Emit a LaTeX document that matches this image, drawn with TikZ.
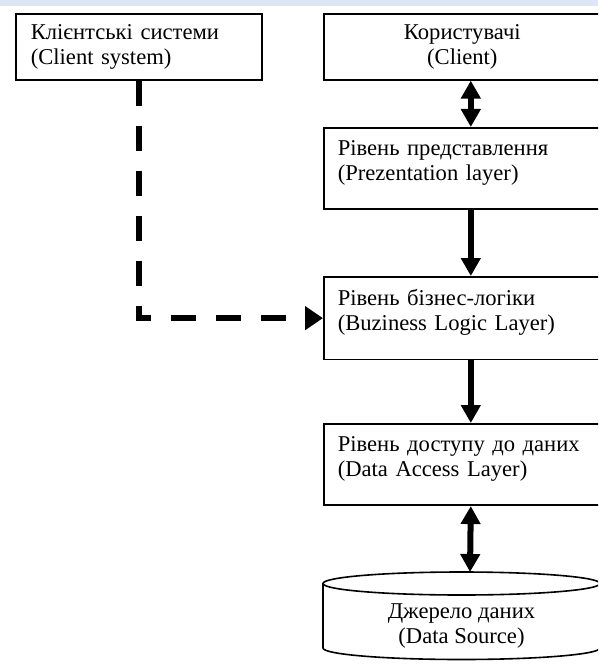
\documentclass[tikz,border=0pt]{standalone}
\usepackage{fontspec}
\setmainfont{Liberation Serif}
\usepackage{xcolor}
\usepackage{tikz}
\usetikzlibrary{arrows.meta,positioning,calc}
\definecolor{RulerBlue}{HTML}{DCE6F4}
\definecolor{InkBlack}{RGB}{0,0,0}
\colorlet{BoxLine}{InkBlack}

\tikzset{
  frame/.style={draw=BoxLine, line width=1.6pt, font=\fontsize{22.6}{25}\selectfont},
  sysbox/.style={frame, anchor=north west, minimum width=246pt, minimum height=66pt,
                 text width=216pt, inner xsep=15pt, align=left},
  userbox/.style={frame, anchor=north west, minimum width=277pt, minimum height=66pt,
                  text width=249pt, inner xsep=14pt, align=center},
  layerbox/.style={frame, anchor=north west, minimum width=277pt, text width=249pt,
                   inner xsep=14pt, inner ysep=13pt, text depth=40.5pt, align=left},
  flow/.style={draw=InkBlack, line width=6pt},
  >={Triangle[length=18pt,width=19pt]},
}

\begin{document}
\begin{tikzpicture}[x=1pt,y=1pt]
  \useasboundingbox (0,0) rectangle (598,-666);
  \clip (0,0) rectangle (598,-666);
  \fill[RulerBlue] (0,0) rectangle (598,-6);

  \node[sysbox] (sys) at (15,-13) {Клієнтські системи\\(Client system)};
  \node[userbox] (client) at (323,-13) {Користувачі\\(Client)};
  \node[layerbox] (pres) at (323,-127) {Рівень представлення\\(Prezentation layer)};
  \node[layerbox] (biz) at (323,-276) {Рівень бізнес-логіки\\(Buziness Logic Layer)};
  \node[layerbox] (dal) at (323,-423) {Рівень доступу до даних\\(Data Access Layer)};

  % data source drum
  \draw[frame] (323,-583.5) -- (323,-648)
    arc[start angle=180, end angle=360, x radius=138.5, y radius=11.5] -- (600,-583.5);
  \draw[frame] (461.5,-583.5) ellipse[x radius=138.5, y radius=11.5];
  \node[font=\fontsize{22.6}{25}\selectfont, align=center] (src) at (461.5,-626)
    {Джерело даних\\(Data Source)};
  \coordinate (srcTop) at (470,-572);

  \draw[flow,<->] ([xshift=8.5pt]client.south) -- ([xshift=8.5pt]pres.north);
  \draw[flow,->] ([xshift=8.5pt]pres.south) -- ([xshift=8.5pt]biz.north);
  \draw[flow,->] ([xshift=8.5pt]biz.south) -- ([xshift=8.5pt]dal.north);
  \draw[flow,<->] ([xshift=8.5pt]dal.south) -- (srcTop);

  \draw[flow, line width=6.5pt, dash pattern=on 25pt off 20pt,
        -{Triangle[length=18pt,width=23pt]}] (sys.south) |- (biz.west);
\end{tikzpicture}
\end{document}
